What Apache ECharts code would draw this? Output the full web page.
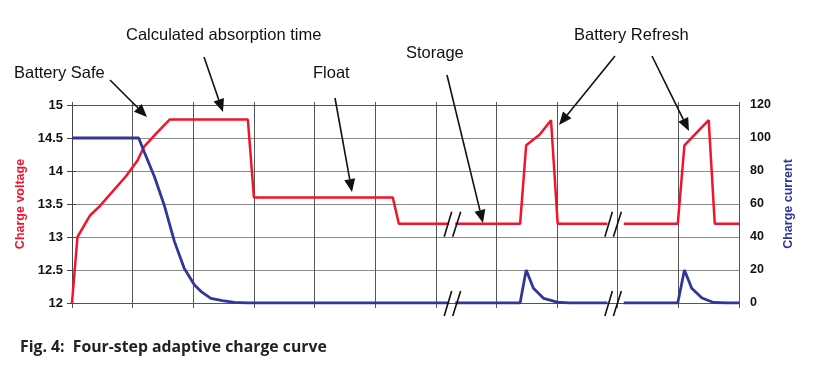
<!DOCTYPE html>
<html><head><meta charset="utf-8">
<script src="https://cdn.jsdelivr.net/npm/echarts@6/dist/echarts.min.js"></script>
<style>html,body{margin:0;padding:0;background:#fff}#c{width:826px;height:371px}</style>
</head><body><div id="c"></div>
<script>
// ---- data (time in grid units, voltage in V, current in A) ----
const voltageX = [0, 0.09, 0.30, 0.45, 0.89, 1.08, 1.19, 1.39, 1.61, 2.90, 3.00, 5.29, 5.39, 6.22, 6.27, 6.32, 7.39, 7.49, 7.71, 7.90, 8.01, 8.83, 8.92, 9.10, 9.99, 10.10, 10.50, 10.60, 11];
const voltageY = [12, 13.0, 13.33, 13.46, 13.92, 14.16, 14.37, 14.57, 14.78, 14.78, 13.6, 13.6, 13.2, 13.2, null, 13.2, 13.2, 14.39, 14.55, 14.77, 13.2, 13.2, null, 13.2, 13.2, 14.39, 14.77, 13.2, 13.2];
const currentX = [0, 1.10, 1.19, 1.36, 1.52, 1.69, 1.85, 2.02, 2.13, 2.29, 2.48, 2.68, 2.90, 6.22, 6.27, 6.32, 7.39, 7.49, 7.61, 7.78, 8.00, 8.20, 8.83, 8.92, 9.10, 9.99, 10.10, 10.22, 10.39, 10.58, 10.80, 11];
const currentY = [100, 100, 91.7, 76.5, 59.4, 37.2, 21, 10.9, 6.9, 2.8, 1.4, 0.4, 0, 0, null, 0, 0, 20, 8.9, 2.8, 0.5, 0, 0, null, 0, 0, 20, 9, 3, 0.3, 0, 0];
const breakX = [6.27, 8.92];
const voltageBreakY = 13.2;
const currentBreakY = 0;
const voltageAxis = {min: 12, max: 15, step: 0.5, name: 'Charge voltage'};
const currentAxis = {min: 0, max: 120, step: 20, name: 'Charge current'};
const timeAxis = {min: 0, max: 11, step: 1};
const annotations = [
  {text: 'Calculated absorption time', x: 126, y: 36, from: [204, 57], to: [223, 112]},
  {text: 'Battery Safe', x: 14, y: 74, from: [110, 80], to: [147, 117]},
  {text: 'Float', x: 313, y: 74, from: [335, 98], to: [352, 192]},
  {text: 'Storage', x: 406, y: 54, from: [447, 75], to: [483, 223]},
  {text: 'Battery Refresh', x: 574, y: 36, from: [615, 56], to: [559, 125]},
  {text: null, from: [652, 56], to: [689, 131]}
];
const caption = 'Fig. 4:  Four-step adaptive charge curve';

const RED = '#f2132c', BLUE = '#32359a';
const FONT = '"Liberation Sans", Arial, sans-serif';
const toPairs = (xs, ys) => xs.map((x, i) => [x, ys[i] === null ? '-' : ys[i]]);

const chart = echarts.init(document.getElementById('c'), null, {renderer: 'canvas'});
const xBase = {
  type: 'value', min: timeAxis.min, max: timeAxis.max, interval: timeAxis.step,
  axisLabel: {show: false},
  axisLine: {show: true, lineStyle: {color: '#555', width: 1}},
};
chart.setOption({
  animation: false,
  backgroundColor: '#fff',
  grid: {left: 72, right: 87, top: 105, bottom: 68},
  xAxis: [
    Object.assign({}, xBase, {position: 'bottom', axisTick: {show: true, inside: false, length: 5, lineStyle: {color: '#555'}},
      splitLine: {show: true, lineStyle: {color: '#555', width: 1}}}),
    Object.assign({}, xBase, {position: 'top', axisTick: {show: true, inside: false, length: 3, lineStyle: {color: '#555'}},
      splitLine: {show: false}})
  ],
  yAxis: [
    {type: 'value', position: 'left', min: voltageAxis.min, max: voltageAxis.max, interval: voltageAxis.step,
      name: voltageAxis.name, nameLocation: 'middle', nameRotate: 90, nameGap: 43,
      nameTextStyle: {color: RED, fontWeight: 'bold', fontSize: 12.5, fontFamily: FONT},
      axisLine: {show: true, lineStyle: {color: '#444'}},
      axisTick: {show: true, length: 5, lineStyle: {color: '#444'}},
      axisLabel: {color: '#111', fontWeight: 'bold', fontSize: 13, fontFamily: FONT, margin: 9},
      splitLine: {show: true, lineStyle: {color: '#8a8a8a', width: 1}}},
    {type: 'value', position: 'right', min: currentAxis.min, max: currentAxis.max, interval: currentAxis.step,
      name: currentAxis.name, nameLocation: 'middle', nameRotate: 90, nameGap: 37,
      nameTextStyle: {color: BLUE, fontWeight: 'bold', fontSize: 12.5, fontFamily: FONT},
      axisLine: {show: true, lineStyle: {color: '#444'}},
      axisTick: {show: true, length: 4, lineStyle: {color: '#444'}},
      axisLabel: {color: '#111', fontWeight: 'bold', fontSize: 12.5, fontFamily: FONT, margin: 11},
      splitLine: {show: false}}
  ],
  series: [
    {type: 'line', name: 'Charge voltage', xAxisIndex: 0, yAxisIndex: 0, data: toPairs(voltageX, voltageY),
      showSymbol: false, symbol: 'none', connectNulls: false, lineStyle: {color: RED, width: 2.5}, z: 3},
    {type: 'line', name: 'Charge current', xAxisIndex: 0, yAxisIndex: 1, data: toPairs(currentX, currentY),
      showSymbol: false, symbol: 'none', connectNulls: false, lineStyle: {color: BLUE, width: 2.8}, z: 4}
  ]
});

// ---- annotations ----
const g = [];
annotations.forEach(a => {
  if (a.text) g.push({type: 'text', left: a.x, top: a.y - 9, style: {text: a.text, font: '16.5px ' + FONT, fill: '#111'}, z: 10});
  const [x1, y1] = a.from, [x2, y2] = a.to;
  const dx = x2 - x1, dy = y2 - y1, L = Math.hypot(dx, dy), ux = dx / L, uy = dy / L;
  const hl = 13, hw = 5.5;
  const bx = x2 - ux * hl, by = y2 - uy * hl;
  g.push({type: 'line', shape: {x1, y1, x2: bx, y2: by}, style: {stroke: '#111', lineWidth: 1.6}, z: 10});
  g.push({type: 'polygon', shape: {points: [[x2, y2], [bx - uy * hw, by + ux * hw], [bx + uy * hw, by - ux * hw]]}, style: {fill: '#111'}, z: 10});
});
breakX.forEach(bx => {
  [[0, voltageBreakY], [1, currentBreakY]].forEach(([yi, yv]) => {
    const p = chart.convertToPixel({xAxisIndex: 0, yAxisIndex: yi}, [bx, yv]);
    [[-8, -0.5], [0.5, 8.5]].forEach(([a, b]) => {
      g.push({type: 'line', shape: {x1: p[0] + a, y1: p[1] + 13, x2: p[0] + b, y2: p[1] - 12}, style: {stroke: '#111', lineWidth: 1.6}, z: 10});
    });
  });
});
g.push({type: 'text', left: 20, top: 339, style: {text: caption, font: 'bold 15.8px "Open Sans", "Noto Sans", sans-serif', fill: '#222'}, z: 10});
chart.setOption({graphic: g});
</script></body></html>
